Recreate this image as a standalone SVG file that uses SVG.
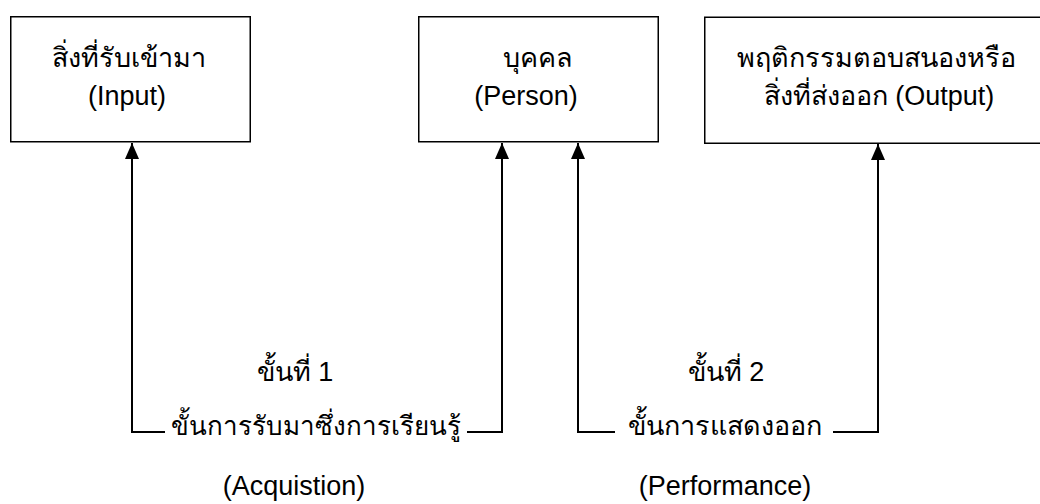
<svg xmlns="http://www.w3.org/2000/svg" width="1040" height="504" viewBox="0 0 1040 504">
<style>
  .box{fill:#fff;stroke:#000;stroke-width:1.5}
  .t{font-family:"Liberation Sans","Noto Sans","DejaVu Sans",sans-serif;font-size:27px;fill:#000;text-anchor:middle}
  .c{fill:none;stroke:#000;stroke-width:2}
</style>
<defs>
  <marker id="ah" viewBox="0 0 16 14" refX="16" refY="7" markerWidth="16" markerHeight="14" markerUnits="userSpaceOnUse" orient="auto">
    <path d="M0,0 L16,7 L0,14 Z" fill="#000"/>
  </marker>
</defs>
<rect width="1040" height="504" fill="#fff"/>
<g id="input">
  <rect class="box" x="10.75" y="16.75" width="239.5" height="125"/>
  <text class="t" x="129" y="67">สิ่งที่รับเข้ามา</text>
  <text class="t" x="127" y="105">(Input)</text>
</g>
<g id="person">
  <rect class="box" x="418.75" y="16.75" width="239.5" height="125"/>
  <text class="t" x="538" y="67">บุคคล</text>
  <text class="t" x="526" y="105">(Person)</text>
</g>
<g id="output">
  <rect class="box" x="704.75" y="17.25" width="345" height="126"/>
  <text class="t" x="876" y="67">พฤติกรรมตอบสนองหรือ</text>
  <text class="t" x="879" y="105">สิ่งที่ส่งออก (Output)</text>
</g>
<g id="connectors">
  <path class="c" d="M165,432 H132 V143" marker-end="url(#ah)"/>
  <path class="c" d="M467,432 H502 V143" marker-end="url(#ah)"/>
  <path class="c" d="M615,432 H578 V143" marker-end="url(#ah)"/>
  <path class="c" d="M833,432 H878 V144" marker-end="url(#ah)"/>
</g>
<g id="labels">
  <text class="t" x="295" y="381">ขั้นที่ 1</text>
  <text class="t" x="316" y="435" style="font-size:26px">ขั้นการรับมาซึ่งการเรียนรู้</text>
  <text class="t" x="294" y="495">(Acquistion)</text>
  <text class="t" x="726" y="381">ขั้นที่ 2</text>
  <text class="t" x="725" y="435">ขั้นการแสดงออก</text>
  <text class="t" x="725" y="495">(Performance)</text>
</g>
</svg>
